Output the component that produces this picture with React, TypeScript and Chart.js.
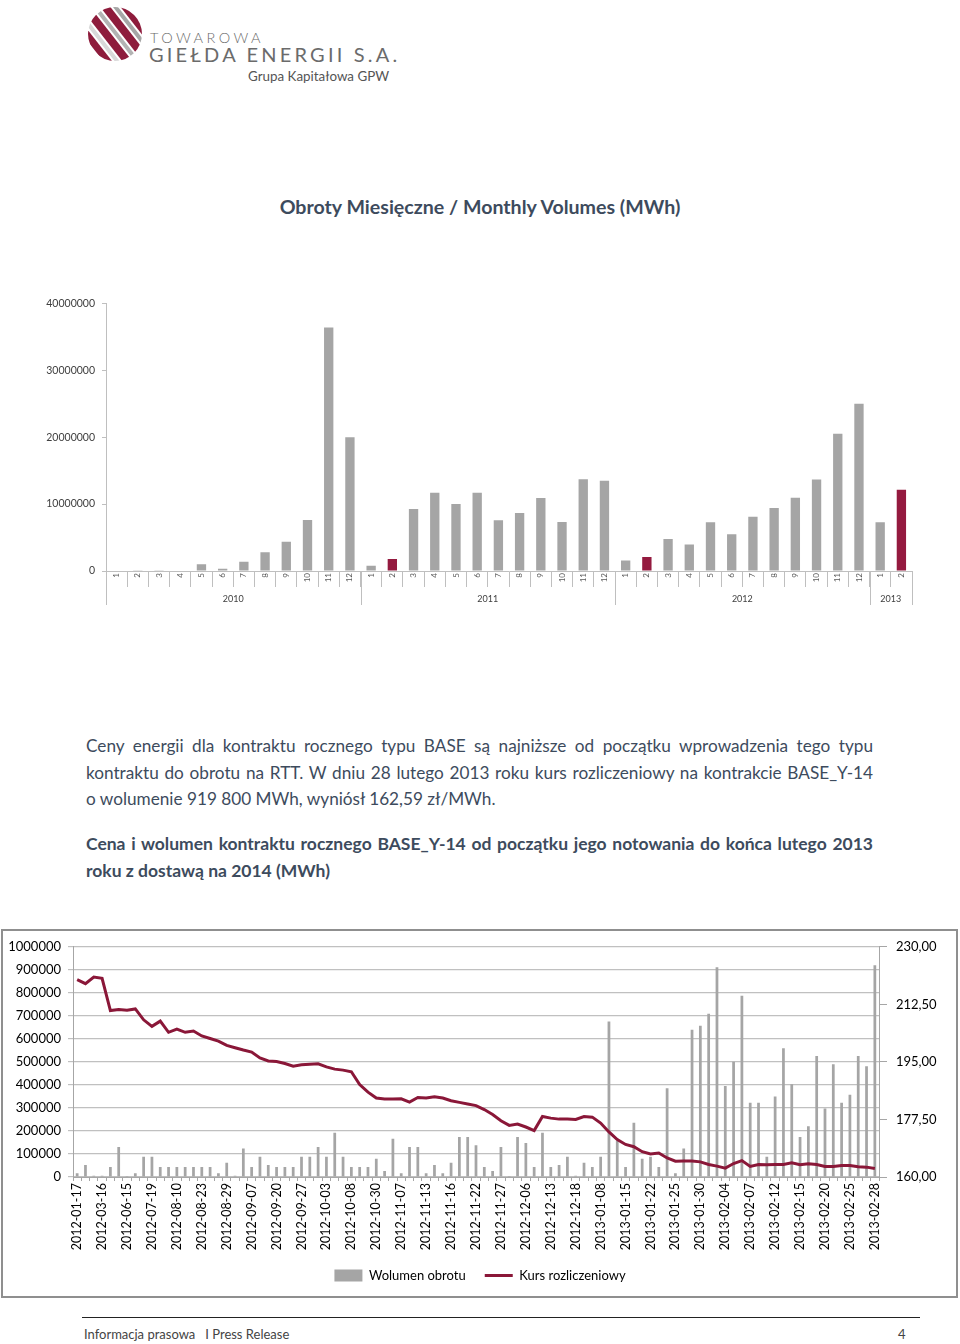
import React, { useEffect, useRef } from 'react';
import { Chart, registerables } from 'chart.js';

Chart.register(...registerables);

const FONT = 'Lato, "Open Sans", "Noto Sans", sans-serif';
const TEXT_COLOR = '#3d4b5d';
const GRAY_BAR = '#a5a5a5';
const RED = '#941a3f';
const LINE_RED = '#8a1738';

// ---------- Top chart: monthly volumes ----------
const monthLabels = [
  '1', '2', '3', '4', '5', '6', '7', '8', '9', '10', '11', '12',
  '1', '2', '3', '4', '5', '6', '7', '8', '9', '10', '11', '12',
  '1', '2', '3', '4', '5', '6', '7', '8', '9', '10', '11', '12',
  '1', '2',
];
const yearGroups = ['2010', '2011', '2012', '2013'];
const yearGroupSizes = [12, 12, 12, 2];
const monthlyVolumes = [
  0, 50000, 50000, 0, 1000000, 350000, 1390000, 2820000, 4360000, 7620000, 36400000, 20000000,
  790000, 1780000, 9260000, 11700000, 10000000, 11700000, 7570000, 8660000, 10900000, 7330000, 13700000, 13500000,
  1580000, 2080000, 4800000, 3960000, 7280000, 5500000, 8120000, 9400000, 10940000, 13660000, 20500000, 25000000,
  7280000, 12130000,
];
const highlightedMonths = [13, 25, 37];
const monthlyTicks = [0, 10000000, 20000000, 30000000, 40000000];

// ---------- Bottom chart: BASE_Y-14 ----------
const tradeDates = [
  '2012-01-17', '2012-02-07', '2012-02-21', '2012-03-16', '2012-04-12', '2012-05-22',
  '2012-06-15', '2012-06-28', '2012-07-10', '2012-07-19', '2012-07-26', '2012-08-02',
  '2012-08-10', '2012-08-16', '2012-08-21', '2012-08-23', '2012-08-24', '2012-08-27',
  '2012-08-29', '2012-08-31', '2012-09-05', '2012-09-07', '2012-09-13', '2012-09-18',
  '2012-09-20', '2012-09-24', '2012-09-26', '2012-09-27', '2012-09-28', '2012-10-02',
  '2012-10-03', '2012-10-04', '2012-10-05', '2012-10-08', '2012-10-15', '2012-10-23',
  '2012-10-30', '2012-10-31', '2012-11-05', '2012-11-07', '2012-11-08', '2012-11-09',
  '2012-11-13', '2012-11-14', '2012-11-15', '2012-11-16', '2012-11-19', '2012-11-20',
  '2012-11-22', '2012-11-23', '2012-11-26', '2012-11-27', '2012-11-28', '2012-12-04',
  '2012-12-06', '2012-12-10', '2012-12-12', '2012-12-13', '2012-12-14', '2012-12-17',
  '2012-12-18', '2012-12-20', '2013-01-03', '2013-01-08', '2013-01-10', '2013-01-14',
  '2013-01-15', '2013-01-17', '2013-01-18', '2013-01-22', '2013-01-23', '2013-01-24',
  '2013-01-25', '2013-01-28', '2013-01-29', '2013-01-30', '2013-01-31', '2013-02-01',
  '2013-02-04', '2013-02-05', '2013-02-06', '2013-02-07', '2013-02-08', '2013-02-11',
  '2013-02-12', '2013-02-13', '2013-02-14', '2013-02-15', '2013-02-18', '2013-02-19',
  '2013-02-20', '2013-02-21', '2013-02-22', '2013-02-25', '2013-02-26', '2013-02-27',
  '2013-02-28',
];
const tradeVolumes = [
  16000, 52000, 5000, 5000, 43000, 130000, 4000, 16000, 88000, 88000, 43000, 43000,
  43000, 43000, 43000, 43000, 43000, 16000, 62000, 5000, 124000, 43000, 88000, 52000,
  43000, 43000, 43000, 88000, 88000, 130000, 88000, 192000, 88000, 43000, 43000, 43000,
  79000, 26000, 166000, 16000, 130000, 130000, 16000, 52000, 16000, 62000, 174000, 174000,
  138000, 43000, 26000, 130000, 4000, 174000, 148000, 43000, 192000, 43000, 52000, 88000,
  5000, 62000, 43000, 88000, 675000, 156000, 43000, 236000, 79000, 88000, 43000, 386000,
  16000, 124000, 640000, 657000, 709000, 911000, 395000, 501000, 787000, 323000, 323000, 88000,
  350000, 559000, 403000, 174000, 220000, 526000, 298000, 490000, 323000, 357000, 526000, 481000,
  919800,
];
const settlementPrices = [
  220.0, 218.8, 220.8, 220.4, 210.6, 210.9, 210.7, 211.1, 207.8, 205.8, 207.4, 204.0,
  205.0, 204.0, 204.4, 202.9, 202.1, 201.3, 200.0, 199.3, 198.6, 198.0, 196.2, 195.3,
  195.1, 194.5, 193.7, 194.1, 194.3, 194.4, 193.5, 192.8, 192.5, 192.0, 188.1, 185.8,
  184.0, 183.7, 183.7, 183.8, 182.8, 184.2, 184.0, 184.4, 184.0, 183.2, 182.7, 182.2,
  181.7, 180.5, 179.0, 177.1, 175.7, 176.1, 175.2, 174.1, 178.4, 177.9, 177.6, 177.6,
  177.5, 178.4, 178.2, 176.4, 173.7, 171.4, 169.9, 169.2, 167.7, 167.0, 167.3, 165.8,
  164.8, 164.9, 164.9, 164.6, 163.8, 163.3, 162.7, 164.1, 165.0, 163.2, 163.8, 163.7,
  163.8, 163.8, 164.3, 163.7, 164.0, 163.8, 163.2, 163.2, 163.5, 163.5, 163.1, 163.0,
  162.59,
];
const volumeTicks = [0, 100000, 200000, 300000, 400000, 500000, 600000, 700000, 800000, 900000, 1000000];
const priceTicks = [160, 177.5, 195, 212.5, 230];

Chart.defaults.font.family = FONT;

const plainNumber = (v: any) => String(Math.round(Number(v)));

const yearRowPlugin = {
  id: 'yearRow',
  afterDraw(chart: any) {
    const xs = chart.scales.x;
    const { ctx, chartArea } = chart;
    const step = xs.getPixelForValue(1) - xs.getPixelForValue(0);
    const bottom = chartArea.bottom + 34;
    ctx.save();
    ctx.strokeStyle = '#bfbfbf';
    ctx.lineWidth = 1;
    ctx.fillStyle = '#404040';
    ctx.font = `9px ${FONT}`;
    ctx.textAlign = 'center';
    ctx.textBaseline = 'middle';
    let start = 0;
    yearGroups.forEach((yr, g) => {
      const n = yearGroupSizes[g];
      const left = xs.getPixelForValue(start) - step / 2;
      const right = xs.getPixelForValue(start + n - 1) + step / 2;
      ctx.beginPath();
      if (g === 0) {
        ctx.moveTo(Math.round(left) + 0.5, chartArea.bottom);
        ctx.lineTo(Math.round(left) + 0.5, bottom);
      }
      ctx.moveTo(Math.round(right) + 0.5, chartArea.bottom);
      ctx.lineTo(Math.round(right) + 0.5, bottom);
      ctx.stroke();
      ctx.fillText(yr, (left + right) / 2, chartArea.bottom + 28);
      start += n;
    });
    ctx.restore();
  },
};

function MonthlyChart() {
  const ref = useRef<HTMLCanvasElement | null>(null);
  useEffect(() => {
    if (!ref.current) return;
    const chart = new Chart(ref.current, {
      type: 'bar',
      data: {
        labels: monthLabels,
        datasets: [
          {
            data: monthlyVolumes,
            backgroundColor: monthlyVolumes.map((_, i) => (highlightedMonths.includes(i) ? RED : GRAY_BAR)),
            barPercentage: 0.44,
            categoryPercentage: 1,
          },
        ],
      },
      options: {
        animation: false,
        responsive: false,
        layout: { padding: { top: 11, right: 48, left: 0, bottom: 0 } },
        plugins: { legend: { display: false }, tooltip: { enabled: false } },
        scales: {
          x: {
            offset: true,
            grid: { offset: true, drawOnChartArea: false, tickLength: 16, color: '#bfbfbf', lineWidth: 1 },
            border: { color: '#bfbfbf' },
            ticks: {
              autoSkip: false,
              minRotation: 90,
              maxRotation: 90,
              padding: -14,
              color: '#595959',
              font: { size: 8, family: FONT },
            },
            afterFit: (s: any) => {
              s.height = 39;
            },
          },
          y: {
            min: 0,
            max: 40000000,
            afterBuildTicks: (s: any) => {
              s.ticks = monthlyTicks.map((v) => ({ value: v }));
            },
            ticks: { color: '#404040', padding: 7, font: { size: 10.5, family: FONT }, callback: plainNumber },
            grid: { drawOnChartArea: false, tickLength: 4, color: '#bfbfbf' },
            border: { color: '#bfbfbf' },
            afterFit: (s: any) => {
              s.width = 106;
            },
          },
        },
      },
      plugins: [yearRowPlugin],
    });
    return () => chart.destroy();
  }, []);
  return (
    <canvas
      ref={ref}
      width={960}
      height={320}
      style={{ position: 'absolute', left: 0, top: 290, width: 960, height: 320 }}
    />
  );
}

function ContractChart() {
  const ref = useRef<HTMLCanvasElement | null>(null);
  useEffect(() => {
    if (!ref.current) return;
    const chart = new Chart(ref.current, {
      type: 'bar',
      data: {
        labels: tradeDates,
        datasets: [
          {
            type: 'bar',
            label: 'Wolumen obrotu',
            data: tradeVolumes,
            backgroundColor: GRAY_BAR,
            barPercentage: 0.33,
            categoryPercentage: 1,
            yAxisID: 'y',
            order: 2,
          },
          {
            type: 'line',
            label: 'Kurs rozliczeniowy',
            data: settlementPrices,
            borderColor: LINE_RED,
            backgroundColor: LINE_RED,
            borderWidth: 3,
            pointRadius: 0,
            tension: 0,
            yAxisID: 'y1',
            order: 1,
          },
        ] as any,
      },
      options: {
        animation: false,
        responsive: false,
        layout: { padding: { top: 15, right: 0, left: 0, bottom: 3 } },
        plugins: {
          tooltip: { enabled: false },
          legend: {
            position: 'bottom',
            labels: {
              usePointStyle: true,
              pointStyleWidth: 28,
              boxHeight: 12,
              padding: 19,
              color: '#000',
              font: { size: 13, family: FONT },
              generateLabels: (c: any) =>
                c.data.datasets.map((ds: any, i: number) => ({
                  text: ds.label,
                  fillStyle: ds.backgroundColor,
                  strokeStyle: ds.type === 'line' ? ds.borderColor : ds.backgroundColor,
                  lineWidth: ds.type === 'line' ? 3 : 0,
                  pointStyle: ds.type === 'line' ? 'line' : 'rect',
                  hidden: false,
                  datasetIndex: i,
                  fontColor: '#000',
                })),
            },
          },
        },
        scales: {
          x: {
            offset: true,
            grid: { offset: true, drawOnChartArea: false, tickLength: 4, color: '#a6a6a6' },
            border: { color: '#a6a6a6' },
            ticks: {
              autoSkip: false,
              minRotation: 90,
              maxRotation: 90,
              padding: 2,
              color: '#000',
              font: { size: 12.5, family: FONT },
              callback: (_v: any, i: number) => (i % 3 === 0 ? tradeDates[i] : ''),
            },
            afterFit: (s: any) => {
              s.height = 73;
            },
          },
          y: {
            position: 'left',
            min: 0,
            max: 1000000,
            afterBuildTicks: (s: any) => {
              s.ticks = volumeTicks.map((v) => ({ value: v }));
            },
            ticks: { color: '#000', padding: 7, font: { size: 13, family: FONT }, callback: plainNumber },
            grid: { color: '#c0c0c0', lineWidth: 1.2, tickLength: 5 },
            border: { color: '#a6a6a6' },
            afterFit: (s: any) => {
              s.width = 73;
            },
          },
          y1: {
            position: 'right',
            min: 160,
            max: 230,
            afterBuildTicks: (s: any) => {
              s.ticks = priceTicks.map((v) => ({ value: v }));
            },
            ticks: {
              color: '#000',
              padding: 9,
              font: { size: 13, family: FONT },
              callback: (v: any) => Number(v).toFixed(2).replace('.', ','),
            },
            grid: { drawOnChartArea: false, tickLength: 8, color: '#a6a6a6' },
            border: { color: '#a6a6a6' },
            afterFit: (s: any) => {
              s.width = 81;
            },
          },
        },
      },
    });
    return () => chart.destroy();
  }, []);
  return (
    <canvas
      ref={ref}
      width={960}
      height={365}
      style={{ position: 'absolute', left: 0, top: 930, width: 960, height: 365 }}
    />
  );
}

function Logo() {
  const stripes = [
    { x: 4, w: 7, c: '#8e1c3c' },
    { x: 13, w: 4, c: '#d9d9d9' },
    { x: 19, w: 8, c: '#8e1c3c' },
    { x: 29, w: 4, c: '#b3b3b3' },
    { x: 35, w: 8, c: '#8e1c3c' },
    { x: 45, w: 4, c: '#a6a6a6' },
    { x: 51, w: 10, c: '#8e1c3c' },
  ];
  return (
    <>
      <svg
        width={60}
        height={60}
        viewBox="0 0 60 60"
        style={{ position: 'absolute', left: 85, top: 4 }}
      >
        <defs>
          <clipPath id="sphereClip">
            <circle cx="30" cy="30" r="27" />
          </clipPath>
        </defs>
        <g clipPath="url(#sphereClip)">
          <rect x="0" y="0" width="60" height="60" fill="#ffffff" />
          <g transform="rotate(-38 30 30)">
            {stripes.map((s, i) => (
              <rect key={i} x={s.x} y={-20} width={s.w} height={100} fill={s.c} />
            ))}
          </g>
        </g>
      </svg>
      <div
        style={{
          position: 'absolute',
          left: 150,
          top: 31,
          fontFamily: FONT,
          fontSize: 14.5,
          lineHeight: '14px',
          letterSpacing: 3.4,
          color: '#6b6b6b',
          fontWeight: 300,
          whiteSpace: 'nowrap',
        }}
      >
        TOWAROWA
      </div>
      <div
        style={{
          position: 'absolute',
          left: 149,
          top: 44,
          fontFamily: FONT,
          fontSize: 20,
          lineHeight: '20px',
          letterSpacing: 3.2,
          color: '#6b6b6b',
          fontWeight: 400,
          whiteSpace: 'nowrap',
        }}
      >
        GIEŁDA ENERGII S.A.
      </div>
      <div
        style={{
          position: 'absolute',
          left: 248,
          top: 68,
          fontFamily: FONT,
          fontSize: 13.4,
          lineHeight: '16px',
          color: '#555555',
          whiteSpace: 'nowrap',
        }}
      >
        Grupa Kapitałowa GPW
      </div>
    </>
  );
}

const paragraphLines = [
  'Ceny energii dla kontraktu rocznego typu BASE są najniższe od początku wprowadzenia tego typu',
  'kontraktu do obrotu na RTT. W dniu 28 lutego 2013 roku kurs rozliczeniowy na kontrakcie BASE_Y-14',
  'o wolumenie 919 800 MWh, wyniósł 162,59 zł/MWh.',
];
const headingLines = [
  'Cena i wolumen kontraktu rocznego BASE_Y-14 od początku jego notowania do końca lutego 2013',
  'roku z dostawą na 2014 (MWh)',
];

function JustifiedBlock({ lines, top, bold, lineHeight, fontSize }: any) {
  return (
    <div
      style={{
        position: 'absolute',
        left: 86,
        top,
        width: 787,
        fontFamily: FONT,
        fontSize,
        lineHeight: `${lineHeight}px`,
        color: TEXT_COLOR,
        fontWeight: bold ? 700 : 400,
      }}
    >
      {lines.map((l: string, i: number) => (
        <div
          key={i}
          style={{
            textAlign: 'justify',
            textAlignLast: i === lines.length - 1 ? 'left' : 'justify',
            whiteSpace: 'nowrap',
          } as any}
        >
          {l}
        </div>
      ))}
    </div>
  );
}

export default function App() {
  return (
    <div
      style={{
        position: 'absolute',
        left: 0,
        top: 0,
        width: 960,
        height: 1344,
        background: '#ffffff',
        overflow: 'hidden',
      }}
    >
      <Logo />
      <div
        style={{
          position: 'absolute',
          left: 0,
          width: 960,
          top: 195,
          textAlign: 'center',
          fontFamily: FONT,
          fontSize: 19.6,
          lineHeight: '24px',
          fontWeight: 700,
          color: TEXT_COLOR,
        }}
      >
        Obroty Miesięczne / Monthly Volumes (MWh)
      </div>
      <MonthlyChart />
      <JustifiedBlock lines={paragraphLines} top={733} lineHeight={26.5} fontSize={17.2} />
      <JustifiedBlock lines={headingLines} top={830} lineHeight={27} fontSize={17.5} bold />
      <div
        style={{
          position: 'absolute',
          left: 1,
          top: 929,
          width: 957,
          height: 369,
          border: '2px solid #8f8f8f',
          boxSizing: 'border-box',
        }}
      />
      <ContractChart />
      <div
        style={{
          position: 'absolute',
          left: 82,
          top: 1317,
          width: 838,
          height: 0,
          borderTop: '1.5px solid #222222',
        }}
      />
      <div
        style={{
          position: 'absolute',
          left: 84,
          top: 1326,
          fontFamily: FONT,
          fontSize: 13,
          lineHeight: '16px',
          color: '#444444',
          whiteSpace: 'pre',
        }}
      >
        {'Informacja prasowa   I Press Release'}
      </div>
      <div
        style={{
          position: 'absolute',
          left: 898,
          top: 1326,
          fontFamily: FONT,
          fontSize: 13,
          lineHeight: '16px',
          color: '#444444',
        }}
      >
        4
      </div>
    </div>
  );
}
